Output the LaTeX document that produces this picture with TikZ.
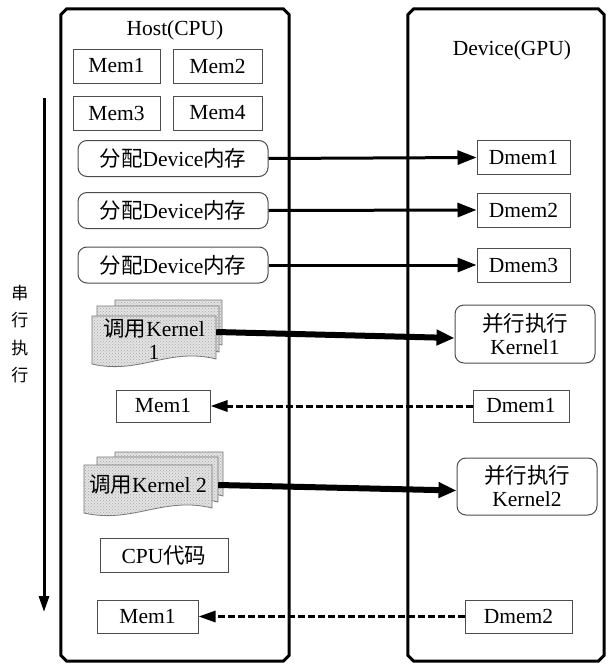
\documentclass[tikz,border=0pt]{standalone}
\usepackage{fontspec}
\setmainfont{Liberation Serif}
\newfontfamily\cjk{Noto Sans CJK SC}
\usetikzlibrary{arrows.meta,patterns}

% one page of a stacked-document symbol: left, top, right, bottom (y grows downward)
\newcommand\docpage[4]{%
  \path[docfill] (#1,#2) -- (#3,#2) -- (#3,{#4-7})
    .. controls ({#1+0.62*(#3-#1)},{#4-19}) and ({#1+0.38*(#3-#1)},{#4+9}) ..
    (#1,{#4-2}) -- cycle;}

% outline of a panel node with cut corners
\newcommand\panelframe[1]{%
  \draw[panelline]
    ([xshift=6pt]#1.north west) -- ([xshift=-6pt]#1.north east)
    -- ([yshift=-6pt]#1.north east) -- ([yshift=6pt]#1.south east)
    -- ([xshift=-6pt]#1.south east) -- ([xshift=6pt]#1.south west)
    -- ([yshift=6pt]#1.south west) -- ([yshift=-6pt]#1.north west) -- cycle;}

\tikzset{
  every node/.style={font=\fontsize{21.5}{23}\selectfont, inner sep=0pt},
  panel/.style={rectangle, draw=none},
  panelline/.style={draw=black, line width=3pt, line join=miter},
  membox/.style={draw=black!70, line width=1pt, fill=white, minimum height=34pt},
  allocbox/.style={draw=black!70, line width=1pt, fill=white, rounded corners=9pt,
    minimum width=190pt, minimum height=36pt},
  parbox/.style={draw=black!70, line width=1pt, fill=white, rounded corners=9pt,
    minimum width=140pt, minimum height=58pt, align=center},
  docfill/.style={draw=black!55, line width=0.8pt, fill=gray!22,
    postaction={pattern=crosshatch dots, pattern color=gray!70}},
  ktext/.style={align=center},
  sendarrow/.style={line width=3pt, -{Triangle[length=19pt,width=14pt]}},
  kernelarrow/.style={line width=6pt, -{Triangle[length=18pt,width=15pt]}},
  backarrow/.style={line width=3pt, dash pattern=on 7pt off 3pt,
    -{Triangle[length=17pt,width=11pt]}},
  flowarrow/.style={line width=3pt, -{Triangle[length=16pt,width=10pt]}},
  sidechar/.style={font=\fontsize{17}{19}\selectfont\cjk}
}

\begin{document}
\begin{tikzpicture}[x=1pt, y=-1pt]
\useasboundingbox (0,0) rectangle (608,667);

% the two memory spaces
\node[panel, minimum width=228pt, minimum height=652pt] (host) at (175,335) {};
\node[panel, minimum width=196pt, minimum height=652pt] (device) at (506,335) {};
\panelframe{host}
\panelframe{device}
\node (hosttitle) at (175,30) {Host(CPU)};
\node (devtitle) at (512,50) {Device(GPU)};

% host buffers
\node[membox, minimum width=87pt] (m1) at (116.5,66) {Mem1};
\node[membox, minimum width=89pt] (m2) at (217.5,66) {Mem2};
\node[membox, minimum width=87pt] (m3) at (116.5,113) {Mem3};
\node[membox, minimum width=89pt] (m4) at (217.5,113) {Mem4};

% device allocations
\node[allocbox] (a1) at (173,158.5) {{\cjk 分配}Device{\cjk 内存}};
\node[allocbox] (a2) at (173,210.5) {{\cjk 分配}Device{\cjk 内存}};
\node[allocbox] (a3) at (173,265) {{\cjk 分配}Device{\cjk 内存}};
\node[membox, minimum width=93pt] (d1) at (523.5,157.5) {Dmem1};
\node[membox, minimum width=93pt] (d2) at (523.5,210) {Dmem2};
\node[membox, minimum width=93pt] (d3) at (523.5,265) {Dmem3};
\draw[sendarrow] (a1.east) -- (d1.west);
\draw[sendarrow] (a2.east) -- (d2.west);
\draw[sendarrow] (a3.east) -- (d3.west);

% first kernel launch
\docpage{115}{300}{222}{352}
\docpage{97}{306}{219}{359}
\docpage{92}{316}{216}{366}
\node[ktext, minimum width=124pt, minimum height=50pt] (k1) at (154,339)
  {{\cjk 调用}Kernel\\1};
\node[parbox] (p1) at (525,334) {{\cjk 并行执行}\\Kernel1};
\draw[kernelarrow] ([yshift=7pt]k1.east) -- ([yshift=-4pt]p1.west);

% copy back
\node[membox, minimum width=94pt, minimum height=32pt] (m1b) at (163,406) {Mem1};
\node[membox, minimum width=96pt, minimum height=32pt] (d1b) at (521,406) {Dmem1};
\draw[backarrow] (d1b.west) -- (m1b.east);

% second kernel launch
\docpage{115}{452}{223}{503}
\docpage{97}{457}{218}{509}
\docpage{84}{465}{212}{515}
\node[ktext, minimum width=128pt, minimum height=40pt] (k2) at (148,485)
  {{\cjk 调用}Kernel 2};
\node[parbox, minimum height=57pt] (p2) at (527,486.5) {{\cjk 并行执行}\\Kernel2};
\draw[kernelarrow] ([xshift=6pt]k2.east) -- ([yshift=-4pt]p2.west);

% host-only work and final copy back
\node[membox, minimum width=128pt] (cpu) at (164,555) {CPU{\cjk 代码}};
\node[membox, minimum width=101pt, minimum height=33pt] (m1c) at (147.5,616.5) {Mem1};
\node[membox, minimum width=107pt, minimum height=33pt] (d2b) at (518.5,616.5) {Dmem2};
\draw[backarrow] (d2b.west) -- (m1c.east);

% serial execution axis
\coordinate (flowtop) at (44,98);
\coordinate (flowend) at (44,612);
\draw[flowarrow] (flowtop) -- (flowend);
\node[sidechar] (s1) at (20,293) {串};
\node[sidechar] (s2) at (20,320) {行};
\node[sidechar] (s3) at (20,348) {执};
\node[sidechar] (s4) at (20,375) {行};
\end{tikzpicture}
\end{document}
